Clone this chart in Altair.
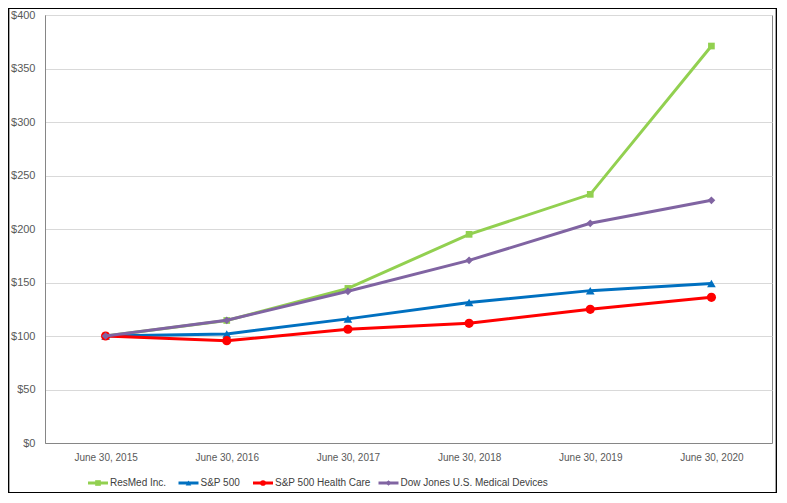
import altair as alt
import pandas as pd

years = ["June 30, 2015", "June 30, 2016", "June 30, 2017",
         "June 30, 2018", "June 30, 2019", "June 30, 2020"]
series = ["ResMed Inc.", "S&P 500", "S&P 500 Health Care",
          "Dow Jones U.S. Medical Devices"]
resmed = [100, 114.5, 144.5, 195.0, 232.4, 371.0]
sp500 = [100, 101.9, 116.0, 131.3, 142.4, 149.0]
health = [100, 95.6, 106.3, 111.9, 124.9, 136.2]
dowjones = [100, 114.7, 141.8, 170.7, 205.3, 226.8]
y_ticks = [0, 50, 100, 150, 200, 250, 300, 350, 400]

colors = ["#92D050", "#0070C0", "#FF0000", "#8064A2"]
shapes = ["square", "triangle-up", "circle", "diamond"]
marker_sizes = [45, 75, 85, 60]
legend_x = [53, 143.5, 218, 343.5]

FONT = "'Liberation Sans', Arial, sans-serif"

values = [resmed, sp500, health, dowjones]
rows = []
for name, vals in zip(series, values):
    for yr, v in zip(years, vals):
        rows.append({"series": name, "year": yr, "value": v})
df = pd.DataFrame(rows)

x_enc = alt.X("year:O", scale=alt.Scale(type="point", domain=years, padding=0.5),
              axis=alt.Axis(title=None, labelAngle=0, ticks=False, labelPadding=9,
                            domainColor="#868686", labelColor="#595959",
                            labelFontSize=10, labelFont=FONT, grid=False))
y_enc = alt.Y("value:Q", scale=alt.Scale(domain=[0, 400], nice=False),
              axis=alt.Axis(title=None, values=y_ticks, format="$.0f", ticks=False,
                            labelPadding=10, domainColor="#868686",
                            labelColor="#595959", labelFontSize=11, labelFont=FONT,
                            grid=True, gridColor="#D9D9D9"))

layers = []
for i, name in enumerate(series):
    sub = alt.Chart(df).transform_filter(alt.datum.series == name)
    layers.append(sub.mark_line(strokeWidth=3, color=colors[i]).encode(x=x_enc, y=y_enc))
    layers.append(sub.mark_point(shape=shapes[i], filled=True, opacity=1,
                                 size=marker_sizes[i], color=colors[i])
                  .encode(x=x_enc, y=y_enc))

leg_df = pd.DataFrame({"series": series})
for i, name in enumerate(series):
    ld = alt.Chart(leg_df).transform_filter(alt.datum.series == name)
    layers.append(ld.mark_point(shape="stroke", size=400, strokeWidth=3,
                                color=colors[i], opacity=1)
                  .encode(x=alt.value(legend_x[i]), y=alt.value(468)))
    layers.append(ld.mark_point(shape=shapes[i], filled=True, size=32,
                                color=colors[i], opacity=1)
                  .encode(x=alt.value(legend_x[i]), y=alt.value(468)))
    layers.append(ld.mark_text(align="left", baseline="middle", dx=12, font=FONT,
                               fontSize=10, color="#404040")
                  .encode(x=alt.value(legend_x[i]), y=alt.value(468), text="series:N"))

frame = alt.Chart(leg_df).mark_rect(fill="transparent", stroke="#000000",
                                    strokeWidth=1.2).encode(
    x=alt.value(-36.5), x2=alt.value(731.5), y=alt.value(-6.5), y2=alt.value(477.5))
layers.append(frame)

chart = alt.layer(*layers).properties(
    width=727, height=428,
    padding={"left": 37, "top": 7, "right": 5, "bottom": 50},
    autosize=alt.AutoSizeParams(type="none"),
).configure_view(stroke="#868686", strokeWidth=1)

chart.save("out.html", embed_options={"renderer": "svg", "actions": False})
